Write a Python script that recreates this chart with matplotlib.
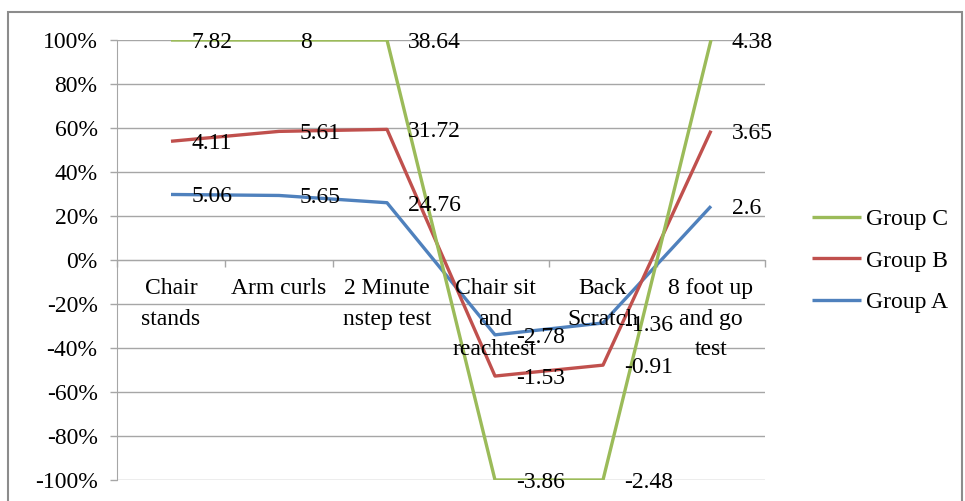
import numpy as np
import matplotlib
matplotlib.use("Agg")
import matplotlib.pyplot as plt
from matplotlib.patches import Rectangle
from matplotlib.ticker import FuncFormatter, FixedLocator

categories = ["Chair\nstands", "Arm curls", "2 Minute\nnstep test",
              "Chair sit\nand\nreachtest", "Back\nScratch", "8 foot up\nand go\ntest"]
group_a = [5.06, 5.65, 24.76, -2.78, -1.36, 2.6]
group_b = [4.11, 5.61, 31.72, -1.53, -0.91, 3.65]
group_c = [7.82, 8, 38.64, -3.86, -2.48, 4.38]
label_a = ["5.06", "5.65", "24.76", "-2.78", "-1.36", "2.6"]
label_b = ["4.11", "5.61", "31.72", "-1.53", "-0.91", "3.65"]
label_c = ["7.82", "8", "38.64", "-3.86", "-2.48", "4.38"]

colors = {"A": "#4F81BD", "B": "#C0504D", "C": "#9BBB59"}

plt.rcParams['font.family'] = ['Liberation Serif', 'DejaVu Serif']
FS = 17

fig = plt.figure(figsize=(9.65, 5.01), dpi=100)
ax = fig.add_axes([117/965, 1-480/501, (765-117)/965, (480-40)/501])

vals = np.array([group_a, group_b, group_c], dtype=float)
total = np.abs(vals).sum(axis=0)
stack = np.cumsum(vals, axis=0) / total

x = np.arange(len(categories))
series = [("Group A", stack[0], label_a, colors["A"]),
          ("Group B", stack[1], label_b, colors["B"]),
          ("Group C", stack[2], label_c, colors["C"])]
handles = {}
for name, ys, labs, col in series:
    ln, = ax.plot(x, ys, color=col, lw=2.4, solid_capstyle='butt', zorder=3)
    handles[name] = ln
    for xi, yi, t in zip(x, ys, labs):
        ax.annotate(t, (xi, yi), xytext=(15, 0), textcoords='offset points',
                    ha='left', va='center_baseline', fontsize=FS, color='black',
                    zorder=5)

ax.set_xlim(-0.5, len(categories) - 0.5)
ax.set_ylim(-1, 1)
ax.yaxis.set_major_locator(FixedLocator(np.linspace(-1, 1, 11)))
ax.yaxis.set_major_formatter(FuncFormatter(lambda v, p: f"{v*100:.0f}%"))
ax.grid(axis='y', color='#A6A6A6', lw=1.0, zorder=0)
ax.set_axisbelow(True)

# category labels drawn below the zero axis line
ax.set_xticks(x)
ax.set_xticklabels([])
ax.set_xticks(np.arange(len(categories) + 1) - 0.5, minor=True)
ax.tick_params(axis='x', which='major', length=0)
ax.tick_params(axis='x', which='minor', length=5, color='#A6A6A6', width=1)
ax.tick_params(axis='y', length=5, color='#A6A6A6', width=1, labelsize=FS, pad=9)
for xi, cat in zip(x, categories):
    ax.annotate(cat, (xi, 0), xytext=(0, -13), textcoords='offset points',
                ha='center', va='top', fontsize=FS, linespacing=1.6,
                multialignment='center', zorder=4)

for s in ['top', 'right']:
    ax.spines[s].set_visible(False)
ax.spines['bottom'].set_position(('data', 0))
ax.spines['bottom'].set_color('#A6A6A6')
ax.spines['left'].set_color('#A6A6A6')

leg = fig.legend([handles["Group C"], handles["Group B"], handles["Group A"]],
                 ["Group C", "Group B", "Group A"],
                 loc='center left', bbox_to_anchor=(800/965, 1-261/501),
                 frameon=False, fontsize=FS, handlelength=2.1, handletextpad=0.2,
                 labelspacing=0.85, borderpad=0)

fig.patches.append(Rectangle((8/965, -0.05), (962-8)/965, 1.05 - 12/501,
                             transform=fig.transFigure, fill=False,
                             edgecolor='#8C8C8C', lw=1.5))

fig.savefig("out.png", dpi=100)
